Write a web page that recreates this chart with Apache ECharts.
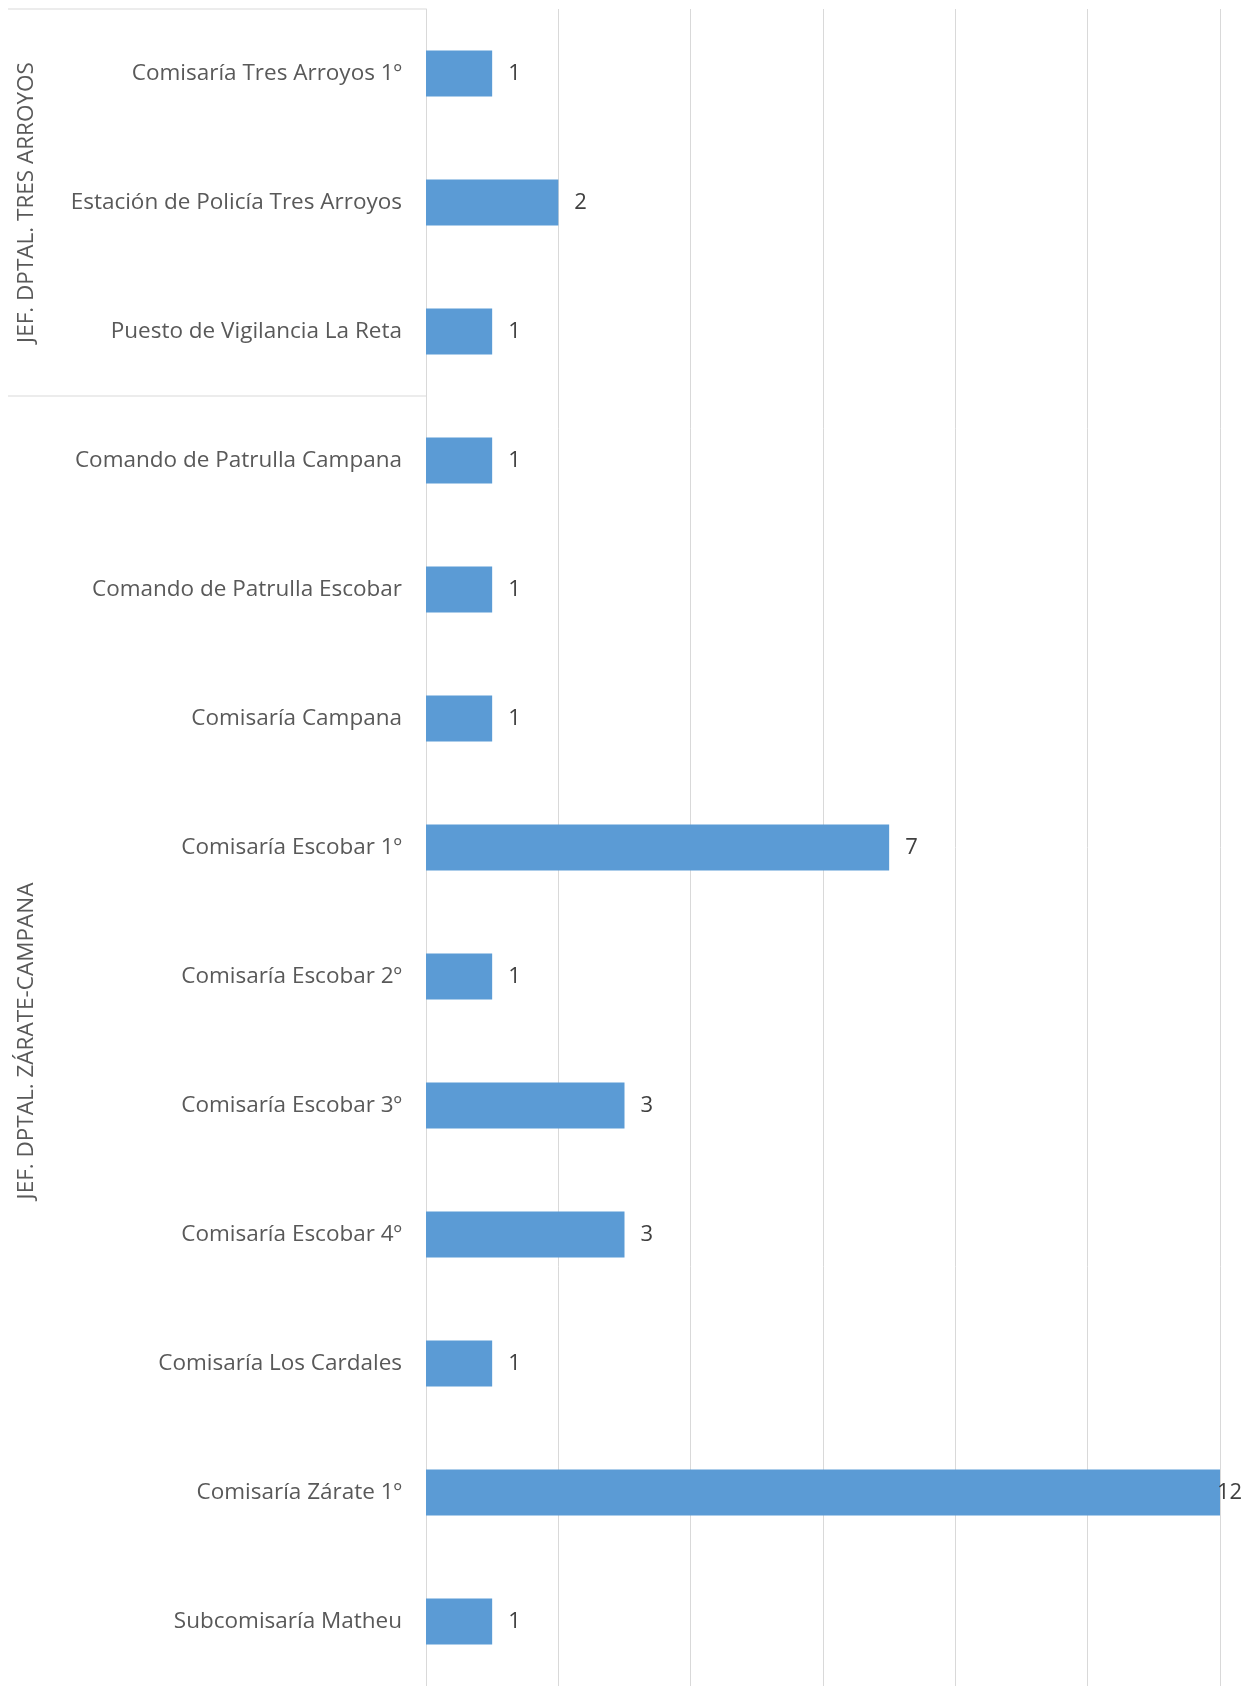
<!DOCTYPE html>
<html>
<head>
<meta charset="utf-8">
<script src="https://cdn.jsdelivr.net/npm/echarts@6/dist/echarts.min.js"></script>
<style>html,body{margin:0;padding:0;background:#fff;}#c{width:1251px;height:1686px;}</style>
</head>
<body>
<div id="c"></div>
<script>
const categories = [
  "Comisaría Tres Arroyos 1º",
  "Estación de Policía Tres Arroyos",
  "Puesto de Vigilancia La Reta",
  "Comando de Patrulla Campana",
  "Comando de Patrulla Escobar",
  "Comisaría Campana",
  "Comisaría Escobar 1º",
  "Comisaría Escobar 2º",
  "Comisaría Escobar 3º",
  "Comisaría Escobar 4º",
  "Comisaría Los Cardales",
  "Comisaría Zárate 1º",
  "Subcomisaría Matheu"
];
const values = [1, 2, 1, 1, 1, 1, 7, 1, 3, 3, 1, 12, 1];
const groups = ["JEF. DPTAL. TRES ARROYOS", "JEF. DPTAL. ZÁRATE-CAMPANA"];
const groupSizes = [3, 10];
const axisMax = 12;

const FONT = "Open Sans";
const chart = echarts.init(document.getElementById('c'));
const data = values.map(v => v >= axisMax ? {value: v, label: {distance: -3}} : v);
chart.setOption({
  animation: false,
  grid: {left: 426, right: 31, top: 9, bottom: -11, containLabel: false},
  xAxis: {
    type: 'value', min: 0, max: axisMax, interval: 2,
    axisLabel: {show: false}, axisLine: {show: false}, axisTick: {show: false},
    splitLine: {show: true, lineStyle: {color: '#d9d9d9', width: 1}}
  },
  yAxis: {
    type: 'category', data: categories, inverse: true,
    axisLine: {show: true, lineStyle: {color: '#d9d9d9'}},
    axisTick: {show: false},
    axisLabel: {color: '#595959', fontSize: 22.5, fontFamily: FONT, margin: 24}
  },
  series: [{
    type: 'bar', data: data, barWidth: 46,
    itemStyle: {color: '#5b9bd5'},
    label: {show: true, position: 'right', distance: 16, color: '#404040', fontSize: 22, fontFamily: FONT}
  }]
});

// group labels and separators, positioned from the category axis
const c0 = chart.convertToPixel({yAxisIndex: 0}, categories[0]);
const c1 = chart.convertToPixel({yAxisIndex: 0}, categories[1]);
const band = c1 - c0;
const axisX = chart.convertToPixel({xAxisIndex: 0}, 0);
const graphics = [];
let start = 0;
groupSizes.forEach((n, gi) => {
  const top = c0 - band / 2 + start * band;
  const bot = top + n * band;
  graphics.push({type: 'line', shape: {x1: 8, y1: top, x2: axisX, y2: top}, style: {stroke: '#d9d9d9', lineWidth: 1}, silent: true});
  graphics.push({
    type: 'text', x: 27, y: (top + bot) / 2, rotation: Math.PI / 2,
    style: {text: groups[gi], fill: '#595959', fontSize: 22.5, fontFamily: FONT, align: 'center', verticalAlign: 'middle'}
  });
  start += n;
});
chart.setOption({graphic: graphics});
</script>
</body>
</html>
